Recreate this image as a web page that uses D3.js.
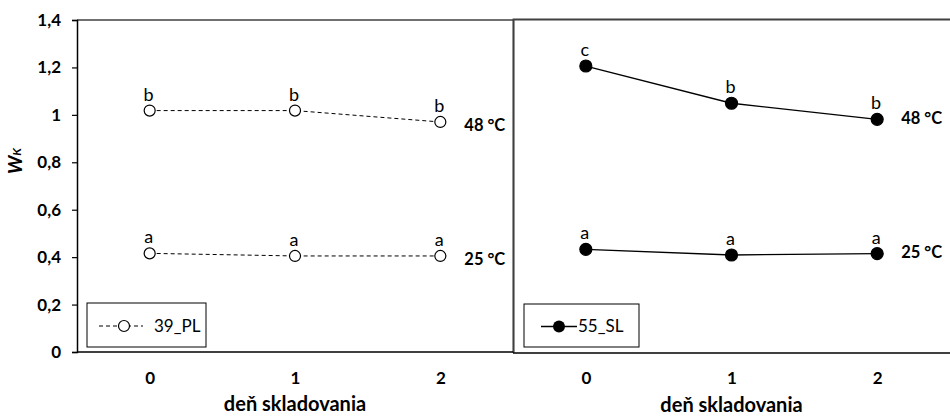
<!doctype html>
<html lang="sk">
<head>
  <meta charset="utf-8">
  <title>W_K – deň skladovania</title>
  <script src="https://d3js.org/d3.v7.min.js"></script>
  <style>
    body { margin: 0; background: #fff; }
    svg text { font-family: Lato, "Open Sans", sans-serif; fill: #000; }
    .tick text { font-weight: bold; font-size: 17px; }
    .lbl { font-size: 18px; }
    .temp { font-size: 16.5px; font-weight: bold; }
    .leg { font-size: 17px; }
    .xtitle { font-size: 20px; font-weight: bold; }
  </style>
</head>
<body>
<svg id="chart" width="950" height="417"></svg>
<script>
  // DATA
  const days = ["0", "1", "2"];
  const yTicks = [0, 0.2, 0.4, 0.6, 0.8, 1, 1.2, 1.4];

  // 39_PL (otvorené krúžky, prerušovaná čiara)
  const pl48 = [1.018, 1.018, 0.970];
  const pl25 = [0.416, 0.405, 0.405];
  const pl48Let = ["b", "b", "b"];
  const pl25Let = ["a", "a", "a"];

  // 55_SL (plné krúžky, plná čiara)
  const sl48 = [1.206, 1.049, 0.981];
  const sl25 = [0.433, 0.409, 0.415];
  const sl48Let = ["c", "b", "b"];
  const sl25Let = ["a", "a", "a"];

  const tempLabels = ["48 °C", "25 °C"];

  let svg = d3.select("#chart");

  let y = d3.scaleLinear().domain([0, 1.4]).range([352, 20]);
  let xL = d3.scalePoint().domain(days).range([77, 513]).padding(0.5);
  let xR = d3.scalePoint().domain(days).range([513, 950]).padding(0.5);

  // panel frames
  svg.append("path")
    .attr("d", "M77,20 H513.5 V352")
    .attr("fill", "none").attr("stroke", "#404040").attr("stroke-width", 1.5);
  svg.append("path")
    .attr("d", "M513.5,353 V19.5 H950")
    .attr("fill", "none").attr("stroke", "#404040").attr("stroke-width", 1.8);
  svg.append("line")
    .attr("x1", 513).attr("x2", 950).attr("y1", 353).attr("y2", 353)
    .attr("stroke", "#000").attr("stroke-width", 1.5);

  // y axis
  let yAxis = svg.append("g")
    .attr("transform", "translate(77,0)")
    .call(d3.axisLeft(y).tickValues(yTicks).tickSize(5).tickPadding(11)
      .tickFormat(function(d) { return String(d).replace(".", ","); }));
  yAxis.select(".domain").attr("stroke-width", 1.5);
  yAxis.selectAll(".tick line").attr("stroke-width", 1.2);

  // x axes
  function xAxis(scale) {
    let g = svg.append("g")
      .attr("transform", "translate(0,352)")
      .call(d3.axisBottom(scale).tickSize(0).tickPadding(20));
    g.select(".domain").remove();
    return g;
  }
  xAxis(xL);
  svg.append("line")
    .attr("x1", 77).attr("x2", 513).attr("y1", 352).attr("y2", 352)
    .attr("stroke", "#000").attr("stroke-width", 1.5);
  xAxis(xR);

  // axis titles
  svg.append("text").attr("class", "xtitle").attr("text-anchor", "middle")
    .attr("x", xL("1")).attr("y", 411).text("deň skladovania");
  svg.append("text").attr("class", "xtitle").attr("text-anchor", "middle")
    .attr("x", xR("1")).attr("y", 412).text("deň skladovania");

  let yt = svg.append("text")
    .attr("transform", "translate(22,161) rotate(-90)")
    .attr("text-anchor", "middle")
    .style("font-weight", "bold").style("font-style", "italic");
  yt.append("tspan").style("font-size", "19px").text("W");
  yt.append("tspan").style("font-size", "12px").attr("dy", -1).text("K");

  // series
  function series(x, vals, letters, dashed, filled) {
    let line = d3.line()
      .x(function(d, i) { return x(days[i]); })
      .y(function(d) { return y(d); });
    svg.append("path")
      .datum(vals)
      .attr("d", line)
      .attr("fill", "none")
      .attr("stroke", "#000")
      .attr("stroke-width", dashed ? 1 : 1.3)
      .attr("stroke-dasharray", dashed ? "4,3" : null);
    svg.selectAll(null)
      .data(vals).enter().append("circle")
      .attr("cx", function(d, i) { return x(days[i]); })
      .attr("cy", function(d) { return y(d); })
      .attr("r", filled ? 6 : 5.5)
      .attr("fill", filled ? "#000" : "#fff")
      .attr("stroke", "#000")
      .attr("stroke-width", 1.2);
    svg.selectAll(null)
      .data(vals).enter().append("text")
      .attr("class", "lbl")
      .attr("text-anchor", "middle")
      .attr("x", function(d, i) { return x(days[i]) - 1; })
      .attr("y", function(d) { return y(d) - 10; })
      .text(function(d, i) { return letters[i]; });
  }

  series(xL, pl48, pl48Let, true, false);
  series(xL, pl25, pl25Let, true, false);
  series(xR, sl48, sl48Let, false, true);
  series(xR, sl25, sl25Let, false, true);

  // temperature labels next to the last point
  [[xL, pl48], [xL, pl25], [xR, sl48], [xR, sl25]].forEach(function(s, k) {
    let last = s[1][s[1].length - 1];
    svg.append("text")
      .attr("class", "temp")
      .attr("x", s[0]("2") + 24)
      .attr("y", y(last) + (s[0] === xL ? 3 : -1))
      .attr("dy", "0.35em")
      .text(tempLabels[k % 2]);
  });

  // legends
  function legend(x0, y0, w, h, name, dashed, filled) {
    let g = svg.append("g").attr("transform", "translate(" + x0 + "," + y0 + ")");
    g.append("rect").attr("width", w).attr("height", h)
      .attr("fill", "#fff").attr("stroke", "#000").attr("stroke-width", 1);
    let cy = h / 2 + 1;
    if (dashed) {
      g.append("line").attr("x1", 12).attr("x2", 56).attr("y1", cy).attr("y2", cy)
        .attr("stroke", "#000").attr("stroke-dasharray", "4,3");
      g.append("circle").attr("cx", 37).attr("cy", cy).attr("r", 5.5)
        .attr("fill", "#fff").attr("stroke", "#000").attr("stroke-width", 1.2);
      g.append("text").attr("class", "leg").attr("x", 67).attr("y", cy).attr("dy", "0.35em").text(name);
    } else {
      g.append("line").attr("x1", 17).attr("x2", 53).attr("y1", cy).attr("y2", cy)
        .attr("stroke", "#000").attr("stroke-width", 1.3);
      g.append("circle").attr("cx", 35).attr("cy", cy).attr("r", 6)
        .attr("fill", "#000");
      g.append("text").attr("class", "leg").attr("x", 54).attr("y", cy).attr("dy", "0.35em").text(name);
    }
  }
  legend(87, 303, 119, 44, "39_PL", true, false);
  legend(524, 304, 115, 43, "55_SL", false, true);
</script>
</body>
</html>
